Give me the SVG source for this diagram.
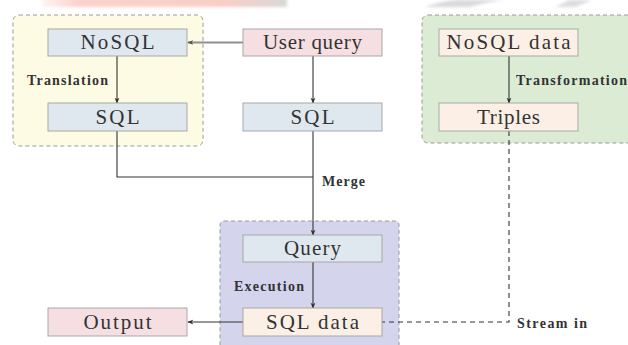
<svg xmlns="http://www.w3.org/2000/svg" width="628" height="345" viewBox="0 0 628 345">
  <defs>
    <style>
      .grp { stroke: #9a9a9a; stroke-width: 1; stroke-dasharray: 4 3; }
      .node { stroke: #a8a8a8; stroke-width: 1; }
      .blue { fill: #dfe8ee; }
      .pink { fill: #f6dfe2; }
      .peach { fill: #fcefe5; }
      .ntext { font-family: "Liberation Serif", "DejaVu Serif", serif; font-size: 21px; fill: #333; text-anchor: middle; }
      .ltext { font-family: "Liberation Serif", "DejaVu Serif", serif; font-size: 14px; font-weight: bold; fill: #333; }
      .edge { fill: none; stroke: #333; stroke-width: 1.1; }
      .dash { fill: none; stroke: #333; stroke-width: 1.1; stroke-dasharray: 5 4; }
    </style>
    <marker id="arr" viewBox="0 0 8 8" refX="7" refY="4" markerWidth="6" markerHeight="6" orient="auto" markerUnits="userSpaceOnUse">
      <path d="M0,0.8 L8,4 L0,7.2 L2,4 z" fill="#333"/>
    </marker>
    <marker id="arrg" viewBox="0 0 8 8" refX="7" refY="4" markerWidth="6" markerHeight="6" orient="auto" markerUnits="userSpaceOnUse">
      <path d="M0,0.8 L8,4 L0,7.2 L2,4 z" fill="#555"/>
    </marker>
    <linearGradient id="band" x1="0" y1="0" x2="1" y2="0">
      <stop offset="0" stop-color="#fbd9d3" stop-opacity="0.3"/>
      <stop offset="0.15" stop-color="#fbd2cb"/>
      <stop offset="0.75" stop-color="#f8cfc8"/>
      <stop offset="1" stop-color="#d8d8d8"/>
    </linearGradient>
    <filter id="soft" x="-10%" y="-50%" width="120%" height="200%">
      <feGaussianBlur stdDeviation="1.5"/>
    </filter>
  </defs>

  <rect width="628" height="345" fill="#ffffff"/>

  <!-- faint banner strip along the top edge -->
  <g filter="url(#soft)">
    <rect x="42" y="-4" width="245" height="11" fill="url(#band)"/>
    <path d="M425,7 Q450,-2 470,0 L505,0 Q485,2 470,7 z" fill="#d9d9d9"/>
    <path d="M555,7 L570,0 L592,0 L575,7 z" fill="#dcdcdc"/>
  </g>

  <!-- group backgrounds -->
  <g id="group-translation">
    <rect class="grp" x="13" y="15" width="190" height="131" rx="6" fill="#fdfbe4"/>
  </g>
  <g id="group-transformation">
    <rect class="grp" x="422" y="15" width="214" height="128" rx="6" fill="#dcebd4"/>
  </g>
  <g id="group-execution">
    <rect class="grp" x="220" y="221" width="179" height="140" rx="4" fill="#d5d4ed"/>
  </g>

  <!-- connectors -->
  <g id="connectors">
    <line x1="243" y1="42.5" x2="188" y2="42.5" stroke="#8f8f8f" stroke-width="2" marker-end="url(#arrg)"/>
    <line class="edge" x1="117" y1="56" x2="117" y2="103" marker-end="url(#arr)"/>
    <line class="edge" x1="313" y1="56" x2="313" y2="103" marker-end="url(#arr)"/>
    <line class="edge" x1="509" y1="56" x2="509" y2="103" marker-end="url(#arr)"/>
    <polyline class="edge" points="117,131 117,177 313,177"/>
    <line class="edge" x1="313" y1="131" x2="313" y2="235" marker-end="url(#arr)"/>
    <line class="edge" x1="313" y1="262" x2="313" y2="308" marker-end="url(#arr)"/>
    <line class="edge" x1="243" y1="322" x2="188" y2="322" marker-end="url(#arr)"/>
    <polyline class="dash" points="509,131 509,322 382,322"/>
  </g>

  <!-- connector labels -->
  <g id="labels">
    <text class="ltext" x="27" y="85" textLength="81" lengthAdjust="spacing">Translation</text>
    <text class="ltext" x="516" y="85" textLength="111" lengthAdjust="spacing">Transformation</text>
    <text class="ltext" x="322" y="186" textLength="43" lengthAdjust="spacing">Merge</text>
    <text class="ltext" x="234" y="291" textLength="70" lengthAdjust="spacing">Execution</text>
    <text class="ltext" x="517" y="328" textLength="70" lengthAdjust="spacing">Stream in</text>
  </g>

  <!-- nodes -->
  <g id="node-nosql">
    <rect class="node blue" x="48" y="29" width="139" height="27"/>
    <text class="ntext" x="117.5" y="49" textLength="74" lengthAdjust="spacing">NoSQL</text>
  </g>
  <g id="node-sql-translated">
    <rect class="node blue" x="48" y="103" width="139" height="28"/>
    <text class="ntext" x="117.5" y="124" textLength="44" lengthAdjust="spacing">SQL</text>
  </g>
  <g id="node-user-query">
    <rect class="node pink" x="243" y="29" width="139" height="27"/>
    <text class="ntext" x="312.5" y="49" textLength="99" lengthAdjust="spacing">User query</text>
  </g>
  <g id="node-sql">
    <rect class="node blue" x="243" y="103" width="139" height="28"/>
    <text class="ntext" x="312.5" y="124" textLength="44" lengthAdjust="spacing">SQL</text>
  </g>
  <g id="node-nosql-data">
    <rect class="node peach" x="439" y="29" width="139" height="27"/>
    <text class="ntext" x="508.5" y="49" textLength="124" lengthAdjust="spacing">NoSQL data</text>
  </g>
  <g id="node-triples">
    <rect class="node peach" x="439" y="103" width="139" height="28"/>
    <text class="ntext" x="508.5" y="124" textLength="63" lengthAdjust="spacing">Triples</text>
  </g>
  <g id="node-query">
    <rect class="node blue" x="243" y="235" width="139" height="27"/>
    <text class="ntext" x="312.5" y="255" textLength="57" lengthAdjust="spacing">Query</text>
  </g>
  <g id="node-sql-data">
    <rect class="node peach" x="243" y="308" width="139" height="28"/>
    <text class="ntext" x="312.5" y="329" textLength="93" lengthAdjust="spacing">SQL data</text>
  </g>
  <g id="node-output">
    <rect class="node pink" x="48" y="308" width="139" height="28"/>
    <text class="ntext" x="117.5" y="329" textLength="68" lengthAdjust="spacing">Output</text>
  </g>
</svg>
